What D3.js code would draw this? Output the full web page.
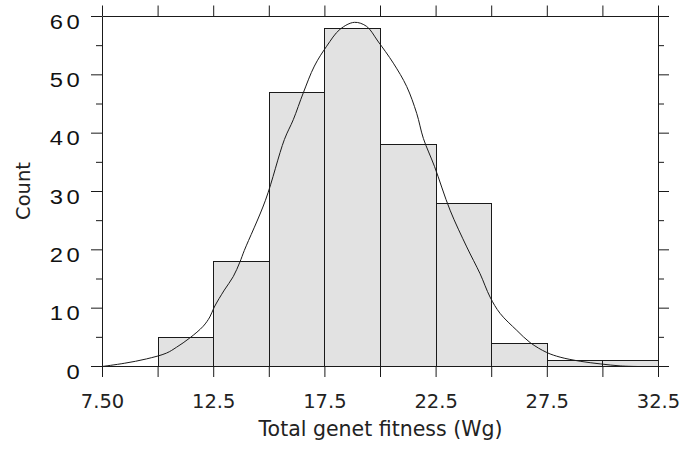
<!DOCTYPE html>
<html>
<head>
<meta charset="utf-8">
<script src="https://cdn.jsdelivr.net/npm/d3@7"></script>
<style>
  html, body { margin: 0; padding: 0; background: #fff; }
  svg { display: block; }
</style>
</head>
<body>
<svg id="chart" width="691" height="449"></svg>
<script>
// Histogram of total genet fitness (bins of width 2.5)
const binStarts = [10, 12.5, 15, 17.5, 20, 22.5, 25, 27.5, 30];
const binWidth = 2.5;
const counts = [5, 18, 47, 58, 38, 28, 4, 1, 1];

// Smoothed density overlay, expressed on the count scale
const densityX = [7.5, 8.5, 9.5, 10.4, 10.85, 11.45, 12.05, 12.35, 12.55, 13.0, 13.4, 13.7, 13.9,
  14.85, 15.7, 16.1, 16.55, 17.05, 17.6, 18.2, 18.85, 19.4, 19.9, 20.6, 21.2, 21.65, 21.95,
  22.45, 23.15, 23.9, 24.5, 24.95, 25.4, 26.15, 26.75, 27.5, 28.1, 29.0, 29.9, 30.8, 31.6];
const densityY = [0, 0.55, 1.3, 2.3, 3.3, 4.9, 6.9, 8.5, 10.2, 13.1, 15.4, 17.9, 19.9,
  28.5, 38.9, 42.3, 46.9, 51.5, 54.9, 57.8, 59.0, 58.3, 55.8, 52.0, 48.0, 43.4, 39.1,
  34.3, 26.8, 20.5, 15.9, 11.9, 9.1, 6.2, 4.1, 2.4, 1.6, 0.9, 0.45, 0.1, 0];

// Axis ticks and labels
const xTicks = [7.5, 10, 12.5, 15, 17.5, 20, 22.5, 25, 27.5, 30, 32.5];
const xTickLabels = ["7.50", "", "12.5", "", "17.5", "", "22.5", "", "27.5", "", "32.5"];
const yMajorTicks = [0, 10, 20, 30, 40, 50, 60];
const yMinorTicks = [5, 15, 25, 35, 45, 55];

const xTitle = "Total genet fitness (Wg)";
const yTitle = "Count";

const plotLeft = 102, plotRight = 658, plotTop = 16, plotBottom = 366;
const ink = "#1a1a1a";
const font = "'DejaVu Sans', Verdana, sans-serif";
const numFont = "'Liberation Sans', Arial, sans-serif";

const svg = d3.select("#chart");

const x = d3.scaleLinear().domain([7.5, 32.5]).range([plotLeft, plotRight]);
const y = d3.scaleLinear().domain([0, 60]).range([plotBottom, plotTop]);

// Bars
svg.append("g")
  .selectAll("rect")
  .data(binStarts)
  .join("rect")
    .attr("x", (d) => Math.round(x(d)) + 0.5)
    .attr("y", (d, i) => Math.round(y(counts[i])) + 0.5)
    .attr("width", (d) => Math.round(x(d + binWidth)) - Math.round(x(d)))
    .attr("height", (d, i) => Math.round(y(0)) - Math.round(y(counts[i])))
    .attr("fill", "#e2e2e2")
    .attr("stroke", ink)
    .attr("stroke-width", 1);

// Density curve
const line = d3.line()
  .x((d) => x(d[0]))
  .y((d) => y(d[1]) + 0.5)
  .curve(d3.curveCatmullRom.alpha(0.5));

svg.append("path")
  .datum(densityX.map((v, i) => [v, densityY[i]]))
  .attr("d", line)
  .attr("fill", "none")
  .attr("stroke", ink)
  .attr("stroke-width", 1);

function styleAxis(g) {
  g.selectAll("path.domain").attr("stroke", ink).attr("stroke-width", 1);
  g.selectAll(".tick line").attr("stroke", ink).attr("stroke-width", 1);
}

// Bottom axis
const gBottom = svg.append("g")
  .attr("transform", `translate(0,${plotBottom})`)
  .call(d3.axisBottom(x)
    .tickValues(xTicks)
    .tickSize(11)
    .tickSizeOuter(0)
    .tickFormat((d, i) => xTickLabels[i]));
styleAxis(gBottom);
gBottom.selectAll(".tick text")
  .attr("y", 28)
  .attr("dy", "0.71em")
  .attr("fill", "#222")
  .style("font-family", font)
  .style("font-size", "19.5px");

// Top axis
const gTop = svg.append("g")
  .attr("transform", `translate(0,${plotTop})`)
  .call(d3.axisTop(x)
    .tickValues(xTicks)
    .tickSize(10.5)
    .tickSizeOuter(0)
    .tickFormat(""));
styleAxis(gTop);

// Left axis: major ticks with wide, letter-spaced labels, then minor ticks
const stretch = 1.22;
const gLeft = svg.append("g")
  .attr("transform", `translate(${plotLeft},0)`)
  .call(d3.axisLeft(y)
    .tickValues(yMajorTicks)
    .tickSize(11)
    .tickSizeOuter(0)
    .tickFormat(d3.format("d")));
styleAxis(gLeft);
gLeft.selectAll(".tick text")
  .attr("transform", `scale(${stretch},1)`)
  .attr("x", -18.5 / stretch)
  .attr("dy", "0.62em")
  .attr("fill", "#111")
  .style("font-family", numFont)
  .style("font-size", "19.5px")
  .style("letter-spacing", "3px");

const gLeftMinor = svg.append("g")
  .attr("transform", `translate(${plotLeft},0)`)
  .call(d3.axisLeft(y).tickValues(yMinorTicks).tickSize(6).tickFormat(""));
gLeftMinor.select("path.domain").remove();
styleAxis(gLeftMinor);

// Right axis
const gRight = svg.append("g")
  .attr("transform", `translate(${plotRight},0)`)
  .call(d3.axisRight(y).tickValues(yMajorTicks).tickSize(11).tickSizeOuter(0).tickFormat(""));
styleAxis(gRight);
const gRightMinor = svg.append("g")
  .attr("transform", `translate(${plotRight},0)`)
  .call(d3.axisRight(y).tickValues(yMinorTicks).tickSize(6).tickFormat(""));
gRightMinor.select("path.domain").remove();
styleAxis(gRightMinor);

// Titles
svg.append("text")
  .attr("x", (plotLeft + plotRight) / 2 + 0.5)
  .attr("y", 436)
  .attr("text-anchor", "middle")
  .attr("fill", "#222")
  .style("font-family", font)
  .style("font-size", "20.5px")
  .text(xTitle);

svg.append("text")
  .attr("transform", "translate(23,191) rotate(-90)")
  .attr("text-anchor", "middle")
  .attr("dy", "0.36em")
  .attr("fill", "#222")
  .style("font-family", font)
  .style("font-size", "19.5px")
  .text(yTitle);
</script>
</body>
</html>
